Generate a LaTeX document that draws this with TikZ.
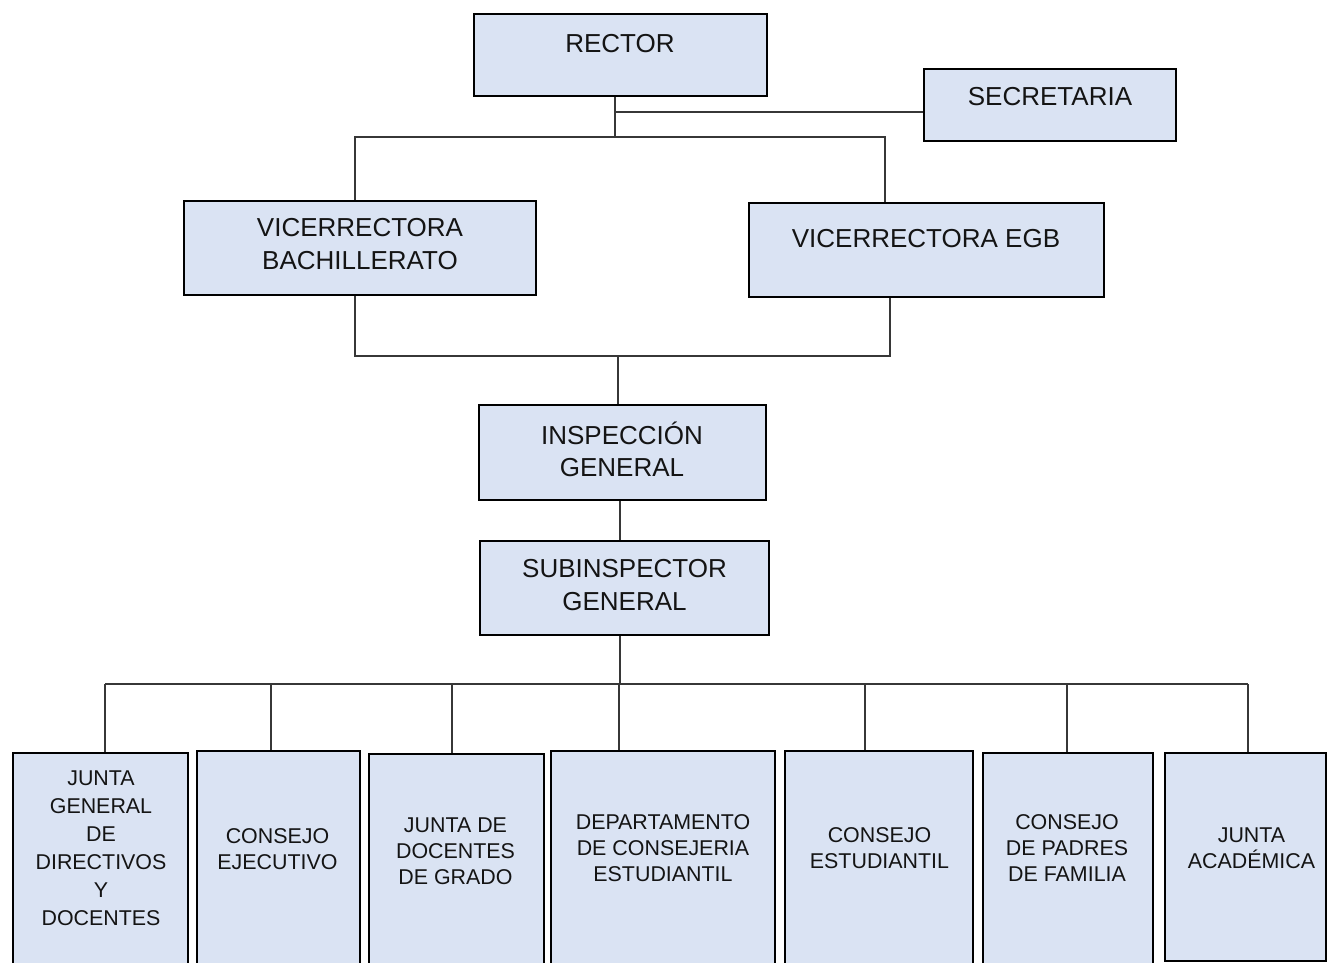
\documentclass[tikz,border=0pt]{standalone}
\usepackage{fontspec}
\setmainfont{Liberation Sans}
\definecolor{boxfill}{RGB}{218,227,243}
\definecolor{linegray}{RGB}{55,55,55}
\definecolor{ink}{RGB}{20,20,20}
\begin{document}
\begin{tikzpicture}[x=1pt,y=-1pt,
  box/.style={draw=black, line width=2.6pt, fill=boxfill, inner sep=0pt, rectangle},
  conn/.style={draw=linegray, line width=1.4pt},
  big/.style={font=\fontsize{26}{32.5}\selectfont, align=center, inner sep=0pt, text=ink},
  small/.style={font=\fontsize{21.4}{26}\selectfont, align=center, inner sep=0pt, text=ink}]
\useasboundingbox (0,0) rectangle (1327,963);

% upper levels
\node[box, minimum width=293, minimum height=82] (rector) at (620.5,55) {};
\node[box, minimum width=252, minimum height=72] (sec) at (1050,105) {};
\node[box, minimum width=352, minimum height=94] (vb) at (360,248) {};
\node[box, minimum width=355, minimum height=94] (vegb) at (926.5,250) {};
\node[box, minimum width=287, minimum height=95] (insp) at (622.5,452.5) {};
\node[box, minimum width=289, minimum height=94] (sub) at (624.5,588) {};

% lower row
\node[box, minimum width=175, minimum height=222] (b1) at (100.5,864) {};
\node[box, minimum width=163, minimum height=224] (b2) at (278.5,863) {};
\node[box, minimum width=175, minimum height=221] (b3) at (456.5,864.5) {};
\node[box, minimum width=224, minimum height=224] (b4) at (663,863) {};
\node[box, minimum width=188, minimum height=224] (b5) at (879,863) {};
\node[box, minimum width=170, minimum height=222] (b6) at (1068,864) {};
\node[box, minimum width=161, minimum height=208] (b7) at (1245.5,857) {};

% labels
\node[big] (t-rector) at (620,44) {RECTOR};
\node[big] (t-sec) at (1050,97) {SECRETARIA};
\node[big] (t-vb) at (360,244) {VICERRECTORA\\BACHILLERATO};
\node[big] (t-vegb) at (926,239) {VICERRECTORA EGB};
\node[big] (t-insp) at (622,449.5) {INSPECCIÓN\\GENERAL};
\node[big] (t-sub) at (624.5,585) {SUBINSPECTOR\\GENERAL};

\node[small, font=\fontsize{21.4}{28}\selectfont] (t-b1) at (101,848) {JUNTA\\GENERAL\\DE\\DIRECTIVOS\\Y\\DOCENTES};
\node[small] (t-b2) at (277.5,849) {CONSEJO\\EJECUTIVO};
\node[small] (t-b3) at (455.5,851) {JUNTA DE\\DOCENTES\\DE GRADO};
\node[small] (t-b4) at (663,848) {DEPARTAMENTO\\DE CONSEJERIA\\ESTUDIANTIL};
\node[small] (t-b5) at (879.5,848) {CONSEJO\\ESTUDIANTIL};
\node[small] (t-b6) at (1067,848) {CONSEJO\\DE PADRES\\DE FAMILIA};
\node[small] (t-b7) at (1251.5,848) {JUNTA\\ACADÉMICA};

% junction points
\coordinate (j0) at (615,112);
\coordinate (j1) at (615,137);
\coordinate (tl) at (355,137);
\coordinate (tr) at (885,137);
\coordinate (ml) at (355,356);
\coordinate (mr) at (890,356);
\coordinate (mc) at (618,356);
\coordinate (ic) at (620,520);
\coordinate (sc) at (620,684);
\coordinate (d1) at (105,684);
\coordinate (d2) at (271,684);
\coordinate (d3) at (452,684);
\coordinate (d4) at (619,684);
\coordinate (d5) at (865,684);
\coordinate (d6) at (1067,684);
\coordinate (d7) at (1248,684);

% connectors
\draw[conn] (rector.south -| j1) -- (j1);
\draw[conn] (j0) -- (sec.west |- j0);
\draw[conn] (vb.north -| tl) -- (tl) -- (tr) -- (vegb.north -| tr);
\draw[conn] (vb.south -| ml) -- (ml) -- (mr) -- (vegb.south -| mr);
\draw[conn] (mc) -- (insp.north -| mc);
\draw[conn] (insp.south -| ic) -- (sub.north -| ic);
\draw[conn] (sub.south -| sc) -- (sc);
\draw[conn] (d1) -- (d7);
\foreach \i in {1,...,7} {
  \draw[conn] (d\i) -- (b\i.north -| d\i);
}
\end{tikzpicture}
\end{document}
